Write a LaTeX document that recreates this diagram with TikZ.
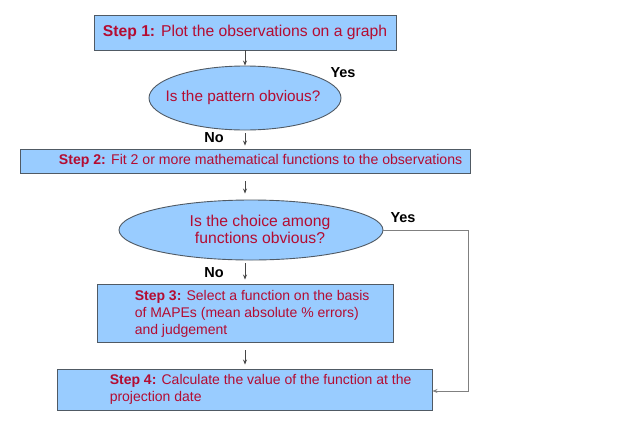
\documentclass[tikz,border=0pt]{standalone}
\usepackage{fontspec}
\setmainfont{Liberation Sans}
\usetikzlibrary{shapes.geometric,arrows.meta,calc}
\definecolor{boxfill}{RGB}{153,204,255}
\definecolor{boxline}{RGB}{80,90,100}
\definecolor{txtred}{RGB}{180,12,50}
\definecolor{arrgray}{RGB}{70,70,70}
\tikzset{
  box/.style={draw=boxline, fill=boxfill, line width=0.9pt, rectangle, inner sep=0pt},
  oval/.style={draw=boxline, fill=boxfill, line width=0.9pt, ellipse, inner sep=0pt},
  txt/.style={text=txtred, inner sep=0pt, align=left},
  lbl/.style={font=\bfseries\fontsize{14.5}{16}\selectfont, inner sep=0pt},
  arr/.style={draw=arrgray, line width=0.8pt, -{Stealth[length=5pt,width=4pt]}},
  yesline/.style={draw=gray, line width=0.9pt, -{Stealth[length=5pt,width=4pt]}}
}
\begin{document}
\begin{tikzpicture}[x=1pt,y=-1pt]
\useasboundingbox (0,0) rectangle (637,429);
% Step 1
\node[box, minimum width=302pt, minimum height=35pt, font=\fontsize{15.7}{18}\selectfont, text=txtred] (s1) at (245,32.5) {\textbf{Step 1:} Plot the observations on a graph};
% Decision 1
\node[oval, minimum width=192pt, minimum height=64pt] (e1) at (245,98) {};
\node[txt, font=\fontsize{15.3}{17}\selectfont] (t_e1) at (243,98) {Is the pattern obvious?};
\node[lbl] (yes1) at (343,73) {Yes};
\node[lbl] (no1) at (214,138) {No};
% Step 2
\node[box, minimum width=450pt, minimum height=24pt] (s2) at (245,161) {};
\node[txt, anchor=east, font=\fontsize{14.1}{16}\selectfont] (t2) at ($(s2.east)+(-8,0)$) {\textbf{Step 2:} Fit 2 or more mathematical functions to the observations};
% Decision 2
\node[oval, minimum width=264pt, minimum height=60pt] (e2) at (251,230) {};
\node[txt, align=center, font=\fontsize{15.7}{17}\selectfont] (t_e2) at (260,229.5) {Is the choice among\\functions obvious?};
\node[lbl] (yes2) at (403,218) {Yes};
\node[lbl] (no2) at (214,273) {No};
% Step 3
\node[box, minimum width=296pt, minimum height=58pt] (s3) at (245,313) {};
\node[txt, anchor=west, font=\fontsize{14}{17}\selectfont] (t3) at ($(s3.west)+(38,1)$) {\textbf{Step 3:} Select a function on the basis\\of MAPEs (mean absolute \% errors)\\and judgement};
% Step 4
\node[box, minimum width=375pt, minimum height=41pt] (s4) at (244.5,389.5) {};
\node[txt, anchor=west, font=\fontsize{14}{16.5}\selectfont] (t4) at ($(s4.west)+(53,0)$) {\textbf{Step 4:} Calculate the value of the function at the\\projection date};
% connectors
\draw[arr] (s1.south) -- (e1.north);
\draw[arr, shorten <=3pt, shorten >=3pt] (e1.south) -- (s2.north);
\draw[arr, shorten <=8pt, shorten >=6pt] (s2.south) -- (s2.south |- e2.north);
\draw[arr, shorten <=3pt, shorten >=4pt] (s3.north |- e2.south) -- (s3.north);
\draw[arr, shorten <=8pt, shorten >=4pt] (s3.south) -- (s3.south |- s4.north);
\coordinate (corner) at (468,230);
\draw[yesline] (e2.east) -- (corner) |- ($(s4.east)+(0,1.5)$);
\end{tikzpicture}
\end{document}
